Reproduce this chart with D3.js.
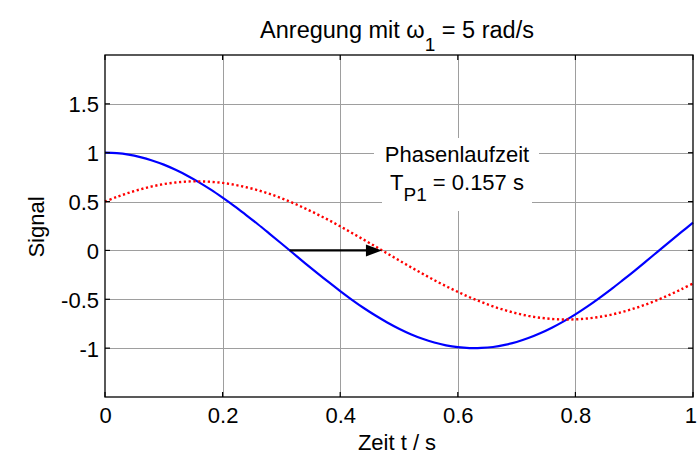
<!DOCTYPE html>
<html>
<head>
<meta charset="utf-8">
<script src="https://cdn.jsdelivr.net/npm/d3@7/dist/d3.min.js"></script>
<style>
  html, body { margin: 0; padding: 0; background: #fff; }
  svg { display: block; }
  text { font-family: "Liberation Sans", Arial, Helvetica, sans-serif; fill: #000; }
</style>
</head>
<body>
<svg id="chart" width="697" height="454"></svg>
<script>
// ---- data ----
const timeValues = [0,0.02,0.04,0.06,0.08,0.10,0.12,0.14,0.16,0.18,0.20,0.22,0.24,0.26,0.28,0.30,0.32,0.34,0.36,0.38,0.40,0.42,0.44,0.46,0.48,0.50,0.52,0.54,0.56,0.58,0.60,0.62,0.64,0.66,0.68,0.70,0.72,0.74,0.76,0.78,0.80,0.82,0.84,0.86,0.88,0.90,0.92,0.94,0.96,0.98,1.00];
const inputSignal = [1.000,0.995,0.980,0.955,0.921,0.878,0.825,0.765,0.697,0.622,0.540,0.454,0.362,0.268,0.170,0.071,-0.029,-0.129,-0.227,-0.323,-0.416,-0.505,-0.589,-0.666,-0.737,-0.801,-0.857,-0.904,-0.942,-0.971,-0.990,-0.999,-0.998,-0.988,-0.967,-0.937,-0.897,-0.848,-0.791,-0.726,-0.654,-0.575,-0.490,-0.401,-0.307,-0.211,-0.112,-0.012,0.088,0.187,0.284];
const outputSignal = [0.500,0.547,0.589,0.625,0.655,0.679,0.695,0.705,0.707,0.702,0.691,0.672,0.647,0.616,0.578,0.534,0.485,0.431,0.373,0.312,0.247,0.179,0.110,0.040,-0.031,-0.101,-0.171,-0.238,-0.304,-0.366,-0.424,-0.479,-0.528,-0.573,-0.611,-0.644,-0.670,-0.689,-0.701,-0.707,-0.705,-0.697,-0.681,-0.659,-0.629,-0.594,-0.553,-0.506,-0.454,-0.398,-0.338];
const xTicks = [0, 0.2, 0.4, 0.6, 0.8, 1];
const xTickLabels = ["0", "0.2", "0.4", "0.6", "0.8", "1"];
const yTicks = [-1, -0.5, 0, 0.5, 1, 1.5];
const yTickLabels = ["-1", "-0.5", "0", "0.5", "1", "1.5"];
const arrowFrom = [0.314, 0];
const arrowTo = [0.471, 0];
const xDomain = [0, 1];
const yDomain = [-1.5, 2];

// ---- layout ----
const svg = d3.select("#chart");
const mLeft = 105, mRight = 693, mTop = 55, mBottom = 397;
const x = d3.scaleLinear().domain(xDomain).range([mLeft, mRight]);
const y = d3.scaleLinear().domain(yDomain).range([mBottom, mTop]);
const fs = 22;

// grid
const grid = svg.append("g").attr("stroke", "#9e9e9e").attr("stroke-width", 1);
xTicks.filter(t => t > xDomain[0] && t < xDomain[1]).forEach(t => {
  grid.append("line").attr("x1", Math.round(x(t)) + 0.5).attr("x2", Math.round(x(t)) + 0.5)
    .attr("y1", mTop).attr("y2", mBottom);
});
yTicks.forEach(t => {
  grid.append("line").attr("y1", Math.round(y(t)) + 0.5).attr("y2", Math.round(y(t)) + 0.5)
    .attr("x1", mLeft).attr("x2", mRight);
});

// text background boxes of the annotation (cover grid)
svg.append("rect").attr("x", 374).attr("y", 138).attr("width", 165).attr("height", 33).attr("fill", "#fff");
svg.append("rect").attr("x", 382).attr("y", 170).attr("width", 150).attr("height", 41).attr("fill", "#fff");

// curves
const pts = (ys) => timeValues.map((t, i) => [t, ys[i]]);
const line = d3.line().x(d => x(d[0])).y(d => y(d[1])).curve(d3.curveCatmullRom);
svg.append("path").attr("d", line(pts(inputSignal)))
  .attr("fill", "none").attr("stroke", "#0000ff").attr("stroke-width", 2.2);
svg.append("path").attr("d", line(pts(outputSignal)))
  .attr("fill", "none").attr("stroke", "#ff0000").attr("stroke-width", 2.4)
  .attr("stroke-dasharray", "2.2,2.6");

// arrow
const ax0 = x(arrowFrom[0]), ax1 = x(arrowTo[0]), ay = y(arrowFrom[1]);
svg.append("line").attr("x1", ax0).attr("x2", ax1 - 12).attr("y1", ay).attr("y2", ay)
  .attr("stroke", "#000").attr("stroke-width", 2.2);
svg.append("path")
  .attr("d", `M${ax1},${ay} L${ax1 - 16},${ay - 6} L${ax1 - 16},${ay + 6} Z`)
  .attr("fill", "#000");

// axis box
svg.append("rect").attr("x", mLeft).attr("y", mTop).attr("width", mRight - mLeft).attr("height", mBottom - mTop)
  .attr("fill", "none").attr("stroke", "#000").attr("stroke-width", 1.3);

// inward ticks on all sides
const tk = svg.append("g").attr("stroke", "#000").attr("stroke-width", 1.2);
const tl = 5;
xTicks.forEach(t => {
  tk.append("line").attr("x1", x(t)).attr("x2", x(t)).attr("y1", mBottom).attr("y2", mBottom - tl);
  tk.append("line").attr("x1", x(t)).attr("x2", x(t)).attr("y1", mTop).attr("y2", mTop + tl);
});
yTicks.forEach(t => {
  tk.append("line").attr("y1", y(t)).attr("y2", y(t)).attr("x1", mLeft).attr("x2", mLeft + tl);
  tk.append("line").attr("y1", y(t)).attr("y2", y(t)).attr("x1", mRight).attr("x2", mRight - tl);
});

// tick labels via d3 axes (labels only)
const xAxis = d3.axisBottom(x).tickValues(xTicks).tickFormat((d, i) => xTickLabels[i]).tickSize(0).tickPadding(0);
const gx = svg.append("g").attr("transform", `translate(0,${mBottom})`).call(xAxis);
gx.select(".domain").remove();
gx.selectAll("text").attr("font-size", fs).attr("dy", null).attr("y", 26)
  .style("font-family", '"Liberation Sans", Arial, sans-serif').attr("fill", "#000");
// keep the last label inside the window
gx.selectAll(".tick").filter(d => d === xDomain[1]).select("text")
  .attr("text-anchor", "end").attr("x", 697 - mRight - 0.5);

const yAxis = d3.axisLeft(y).tickValues(yTicks).tickFormat((d, i) => yTickLabels[i]).tickSize(0).tickPadding(0);
const gy = svg.append("g").attr("transform", `translate(${mLeft},0)`).call(yAxis);
gy.select(".domain").remove();
gy.selectAll("text").attr("font-size", fs).attr("x", -6).attr("dy", "0.36em")
  .style("font-family", '"Liberation Sans", Arial, sans-serif').attr("fill", "#000");

// title
const title = svg.append("text").attr("x", 397).attr("y", 38).attr("text-anchor", "middle").attr("font-size", 23.5);
title.append("tspan").text("Anregung mit ω");
title.append("tspan").attr("font-size", 19).attr("dy", 13).text("1");
title.append("tspan").attr("dy", -13).text(" = 5 rad/s");

// axis labels
svg.append("text").attr("x", 397).attr("y", 450).attr("text-anchor", "middle").attr("font-size", fs).text("Zeit t / s");
svg.append("text").attr("transform", "translate(44,227) rotate(-90)").attr("text-anchor", "middle")
  .attr("font-size", fs).text("Signal");

// annotation
svg.append("text").attr("x", 457).attr("y", 162).attr("text-anchor", "middle").attr("font-size", fs).text("Phasenlaufzeit");
const ann = svg.append("text").attr("x", 457).attr("y", 190).attr("text-anchor", "middle").attr("font-size", fs);
ann.append("tspan").text("T");
ann.append("tspan").attr("font-size", 19).attr("dy", 11).text("P1");
ann.append("tspan").attr("dy", -11).text(" = 0.157 s");
</script>
</body>
</html>
